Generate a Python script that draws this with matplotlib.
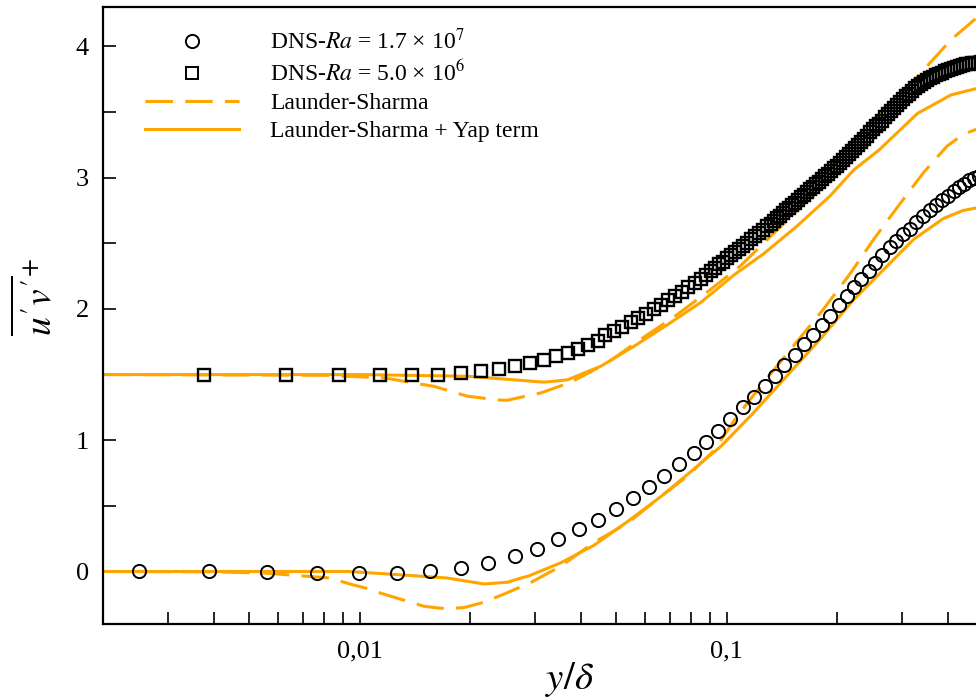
import numpy as np
import matplotlib
matplotlib.use('Agg')
import matplotlib.pyplot as plt
from matplotlib.ticker import LogLocator, NullFormatter, MultipleLocator
from matplotlib.lines import Line2D

plt.rcParams['font.family'] = ['Liberation Serif', 'DejaVu Serif']
plt.rcParams['mathtext.fontset'] = 'stix'

# DNS, Ra = 1.7e7
x_ra17 = [0.0025, 0.0039, 0.0056, 0.00764, 0.00994, 0.01261, 0.01551, 0.01884, 0.02233,
          0.0265, 0.03034, 0.03464, 0.0395, 0.04448, 0.04984, 0.05548, 0.06141, 0.0675,
          0.07406, 0.08124, 0.0878, 0.0949, 0.1021, 0.1104, 0.1183, 0.1267, 0.1349, 0.1432,
          0.1529, 0.1618, 0.1715, 0.1815, 0.1912, 0.2016, 0.2123, 0.2214, 0.2318, 0.2433,
          0.2536, 0.265, 0.2775, 0.2892, 0.3016, 0.3147, 0.328, 0.342, 0.3568, 0.371,
          0.3853, 0.3993, 0.4147, 0.4288, 0.4416, 0.4557, 0.4701, 0.4848, 0.5]
y_ra17 = [0.0, 0.0, -0.003, -0.01, -0.015, -0.013, 0.005, 0.025, 0.066,
          0.117, 0.175, 0.244, 0.32, 0.396, 0.477, 0.558, 0.645, 0.726,
          0.815, 0.904, 0.99, 1.07, 1.16, 1.25, 1.33, 1.41, 1.49, 1.57,
          1.65, 1.73, 1.80, 1.88, 1.95, 2.03, 2.10, 2.17, 2.23, 2.29,
          2.35, 2.41, 2.47, 2.52, 2.57, 2.61, 2.66, 2.71, 2.75, 2.79,
          2.83, 2.86, 2.90, 2.93, 2.95, 2.98, 3.00, 3.01, 3.02]

# DNS, Ra = 5.0e6 (shifted by 1.5)
x_ra5 = [0.00376, 0.00629, 0.00877, 0.01134, 0.01385, 0.01631, 0.01884, 0.02137, 0.02392,
         0.02644, 0.02904, 0.03171, 0.03419, 0.03684, 0.03925, 0.04177, 0.04448, 0.04654,
         0.04914, 0.05178, 0.05479, 0.05734, 0.06027, 0.06328, 0.06623, 0.06908, 0.07227,
         0.07537, 0.07858, 0.08174, 0.08495, 0.08766, 0.09045, 0.09275, 0.0951, 0.09752,
         0.1, 0.1025, 0.1052, 0.1078, 0.1106, 0.1134, 0.1163, 0.1192, 0.1222, 0.1253,
         0.1285, 0.1318, 0.1343, 0.1368, 0.1394, 0.1421, 0.1448, 0.1475, 0.1503, 0.1532,
         0.1561, 0.1591, 0.1621, 0.1652, 0.1683, 0.1715, 0.1748, 0.1781, 0.1815, 0.1849,
         0.1884, 0.192, 0.1957, 0.1994, 0.2032, 0.207, 0.211, 0.215, 0.2191, 0.2232,
         0.2275, 0.2318, 0.2362, 0.2407, 0.2452, 0.2499, 0.2546, 0.2595, 0.2644, 0.2694,
         0.2746, 0.2798, 0.2851, 0.2905, 0.296, 0.3016, 0.3074, 0.3132, 0.3192, 0.3252,
         0.3314, 0.3377, 0.3441, 0.3507, 0.3573, 0.3641, 0.371, 0.3781, 0.3853, 0.3926,
         0.4, 0.4076, 0.4154, 0.4233, 0.4313, 0.4395, 0.4479, 0.4564, 0.465, 0.4739,
         0.4829, 0.492, 0.5]
y_ra5 = [1.5, 1.5, 1.497, 1.495, 1.497, 1.5, 1.513, 1.53, 1.544,
         1.563, 1.59, 1.61, 1.638, 1.665, 1.695, 1.725, 1.757, 1.80,
         1.83, 1.86, 1.90, 1.93, 1.965, 2.0, 2.03, 2.07, 2.10,
         2.13, 2.17, 2.20, 2.23, 2.26, 2.29, 2.315, 2.34, 2.36,
         2.385, 2.41, 2.435, 2.46, 2.48, 2.505, 2.53, 2.555, 2.58, 2.605,
         2.63, 2.65, 2.67, 2.69, 2.71, 2.73, 2.75, 2.77, 2.79, 2.81,
         2.83, 2.85, 2.87, 2.89, 2.91, 2.93, 2.95, 2.97, 2.99, 3.01,
         3.03, 3.05, 3.07, 3.09, 3.115, 3.135, 3.16, 3.18, 3.20, 3.225,
         3.25, 3.27, 3.295, 3.32, 3.345, 3.37, 3.39, 3.41, 3.435, 3.46,
         3.485, 3.51, 3.53, 3.55, 3.575, 3.60, 3.62, 3.64, 3.66, 3.68,
         3.70, 3.715, 3.73, 3.745, 3.76, 3.77, 3.78, 3.79, 3.80, 3.81,
         3.82, 3.83, 3.837, 3.845, 3.852, 3.858, 3.863, 3.868, 3.872, 3.875,
         3.877, 3.879, 3.88]

# Launder-Sharma, Ra = 1.7e7
x_ls17 = [0.002, 0.004, 0.0055, 0.00635, 0.00834, 0.00926, 0.01049, 0.01141, 0.01254,
          0.01497, 0.01663, 0.01804, 0.01924, 0.02177, 0.02531, 0.02924, 0.03529, 0.04341,
          0.05373, 0.06609, 0.07829, 0.09217, 0.1065, 0.1259, 0.152, 0.1835, 0.2168,
          0.2511, 0.2905, 0.3436, 0.3977, 0.44, 0.48, 0.5]
y_ls17 = [0.0, -0.003, -0.012, -0.025, -0.05, -0.09, -0.13, -0.165, -0.20,
          -0.265, -0.28, -0.28, -0.275, -0.235, -0.16, -0.084, 0.04, 0.22,
          0.37, 0.57, 0.73, 0.92, 1.18, 1.44, 1.72, 2.00, 2.27,
          2.53, 2.77, 3.04, 3.24, 3.33, 3.37, 3.39]

# Launder-Sharma + Yap term, Ra = 1.7e7
x_yap17 = [0.002, 0.0063, 0.0093, 0.0121, 0.01734, 0.02181, 0.02526, 0.02746, 0.0288,
           0.03529, 0.04349, 0.05363, 0.06609, 0.07815, 0.09045, 0.09608, 0.1183, 0.1457,
           0.1796, 0.2214, 0.2673, 0.3226, 0.3895, 0.44, 0.48, 0.5]
y_yap17 = [0.0, 0.0, 0.0, -0.02, -0.05, -0.095, -0.082, -0.05, -0.035,
           0.066, 0.2, 0.38, 0.57, 0.74, 0.89, 0.95, 1.21, 1.49,
           1.77, 2.07, 2.30, 2.53, 2.69, 2.75, 2.77, 2.78]

# Launder-Sharma, Ra = 5.0e6 (shifted by 1.5)
x_ls5 = [0.002, 0.008, 0.01165, 0.01594, 0.01967, 0.0242, 0.02531, 0.02985, 0.03114,
         0.0375, 0.04731, 0.05836, 0.07185, 0.08858, 0.1091, 0.1346, 0.1591, 0.1834,
         0.208, 0.2177, 0.268, 0.3308, 0.4077, 0.48, 0.5]
y_ls5 = [1.5, 1.495, 1.475, 1.41, 1.335, 1.305, 1.305, 1.35, 1.36,
         1.44, 1.59, 1.77, 1.94, 2.13, 2.33, 2.58, 2.78, 3.01,
         3.19, 3.26, 3.52, 3.77, 4.05, 4.22, 4.25]

# Launder-Sharma + Yap term, Ra = 5.0e6 (shifted by 1.5)
x_yap5 = [0.002, 0.01, 0.01967, 0.02579, 0.03178, 0.03682, 0.04537, 0.0559, 0.06894,
          0.08495, 0.1047, 0.1259, 0.1551, 0.1909, 0.2218, 0.2595, 0.3308, 0.4077,
          0.48, 0.5]
y_yap5 = [1.5, 1.5, 1.487, 1.462, 1.442, 1.46, 1.564, 1.716, 1.88,
          2.05, 2.26, 2.42, 2.63, 2.86, 3.06, 3.21, 3.49, 3.63,
          3.68, 3.69]

orange = '#FFA500'
dash = (9, 4)
lw = 2.2

fig = plt.figure(figsize=(9.76, 7.0), dpi=100)
ax = fig.add_axes([103 / 976, 76 / 700, 880.5 / 976, 617 / 700])

ax.plot(x_ls17, y_ls17, color=orange, lw=lw, dashes=dash)
ax.plot(x_yap17, y_yap17, color=orange, lw=lw)
ax.plot(x_ls5, y_ls5, color=orange, lw=lw, dashes=dash)
ax.plot(x_yap5, y_yap5, color=orange, lw=lw)
ax.plot(x_ra17, y_ra17, 'o', ms=9.5, mfc='none', mec='black', mew=1.4)
ax.plot(x_ra5, y_ra5, 's', ms=8.5, mfc='none', mec='black', mew=1.7)

ax.set_xscale('log')
ax.set_xlim(0.002, 0.5)
ax.set_ylim(-0.4, 4.3)
ax.set_xticks([0.01, 0.1])
ax.set_xticklabels(['0,01', '0,1'])
ax.xaxis.set_minor_locator(LogLocator(base=10, subs=np.arange(2, 10)))
ax.xaxis.set_minor_formatter(NullFormatter())
ax.set_yticks([0, 1, 2, 3, 4])
ax.yaxis.set_minor_locator(MultipleLocator(0.5))
ax.tick_params(which='both', direction='in', length=9, width=1.2, labelsize=19)
ax.tick_params(axis='x', pad=12)
ax.tick_params(axis='y', pad=10)
for s in ax.spines.values():
    s.set_linewidth(1.6)

ax.set_xlabel(r'$y/\delta$', fontsize=28)
ax.xaxis.set_label_coords(0.53, -0.058)
ax.set_ylabel(r"$\overline{u^{\prime}v^{\prime}}^{+}$", fontsize=27)
ax.yaxis.set_label_coords(-0.05, 0.53)

handles = [
    Line2D([], [], ls='none', marker='o', ms=9.5, mfc='none', mec='black', mew=1.4),
    Line2D([], [], ls='none', marker='s', ms=8.5, mfc='none', mec='black', mew=1.4),
    Line2D([], [], color=orange, lw=lw, dashes=dash),
    Line2D([], [], color=orange, lw=lw),
]
labels = [r'DNS-$Ra$ = 1.7 × 10$^{7}$', r'DNS-$Ra$ = 5.0 × 10$^{6}$',
          'Launder-Sharma', 'Launder-Sharma + Yap term']
ax.legend(handles, labels, loc='upper left', bbox_to_anchor=(0.0477, 0.965),
          frameon=False, fontsize=17, handlelength=4.0, handletextpad=1.3,
          labelspacing=0.28, borderpad=0, borderaxespad=0, numpoints=1)

fig.savefig('out.png', dpi=100)
